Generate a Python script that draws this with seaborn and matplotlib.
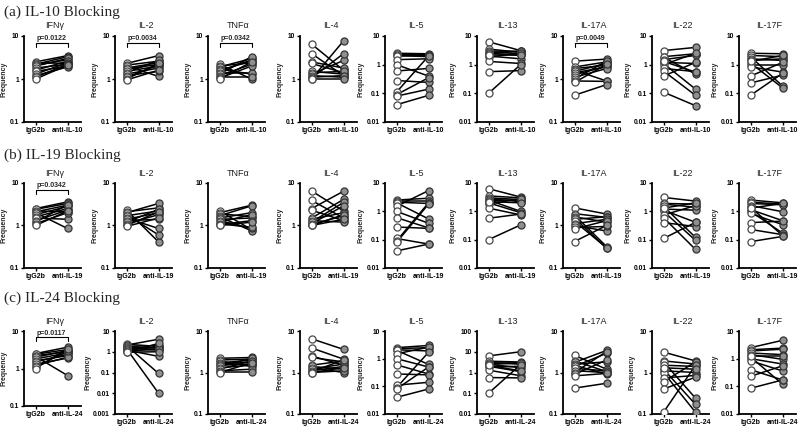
import matplotlib
matplotlib.use("Agg")
import matplotlib.pyplot as plt
import numpy as np
import pandas as pd
import seaborn as sns

# ---------------- data ----------------
CYTOKINES = ["IFNγ", "IL-2", "TNFα", "IL-4", "IL-5", "IL-13", "IL-17A", "IL-22", "IL-17F"]
ROW_TITLES = ["(a) IL-10 Blocking", "(b) IL-19 Blocking", "(c) IL-24 Blocking"]
CONTROL_LABEL = "IgG2b"
TREAT_LABELS = ["anti-IL-10", "anti-IL-19", "anti-IL-24"]

IFNG_IGG = [2.5, 2.4, 2.2, 2.1, 2.0, 1.8, 1.6, 1.5, 1.3, 1.2, 1.1, 1.0]
IFNG_IL10 = [3.5, 2.3, 3.3, 2.8, 3.0, 2.2, 2.6, 2.0, 2.4, 1.9, 2.2, 2.1]
IFNG_IL19 = [3.6, 3.3, 2.1, 3.0, 0.85, 2.8, 2.5, 1.4, 2.3, 3.1, 2.0, 2.2]
IFNG_IL24 = [3.7, 3.2, 2.8, 0.65, 3.0, 2.6, 2.2, 2.4, 1.9, 2.0, 2.9, 3.4]

IL2_IGG = [2.3, 2.1, 2.0, 1.8, 1.7, 1.5, 1.4, 1.3, 1.2, 1.1, 1.0, 0.95]
IL2_IL10 = [3.5, 2.6, 1.15, 2.4, 2.2, 2.0, 2.7, 1.8, 1.5, 2.1, 2.3, 1.6]
IL2_IL19 = [0.41, 2.6, 3.3, 0.6, 2.2, 0.85, 2.0, 1.4, 2.4, 1.8, 2.1, 1.5]
IL2_IL24 = [1.8, 4.0, 0.09, 2.0, 1.5, 1.2, 0.01, 1.6, 0.6, 1.3, 2.5, 1.0]

TNF_IGG = [2.2, 2.0, 1.9, 1.7, 1.6, 1.5, 1.4, 1.3, 1.2, 1.1, 1.05, 1.0]
TNF_IL10 = [1.0, 2.4, 3.0, 1.3, 2.6, 2.8, 1.4, 3.3, 2.2, 1.1, 2.0, 2.5]
TNF_IL19 = [0.8, 3.0, 1.6, 2.9, 0.75, 2.0, 1.5, 0.85, 1.8, 0.9, 1.3, 1.2]
TNF_IL24 = [2.3, 2.1, 1.4, 2.0, 1.8, 1.6, 2.2, 1.5, 1.9, 1.2, 1.05, 1.7]

IL4_IGG = [6.5, 3.9, 2.5, 2.3, 1.5, 1.4, 1.3, 1.2, 1.1, 1.05, 1.0, 1.0]
IL4_IL10 = [1.6, 1.2, 1.8, 1.4, 1.3, 1.5, 2.7, 1.1, 1.2, 3.9, 7.7, 1.0]
IL4_IL19 = [2.2, 1.5, 6.4, 1.3, 4.1, 2.0, 1.2, 3.5, 2.9, 1.7, 1.8, 1.4]
IL4_IL24 = [3.6, 2.1, 1.5, 1.8, 1.9, 1.2, 1.0, 1.6, 1.4, 2.0, 1.1, 1.3]

IL5_IGG = [2.5, 2.3, 2.1, 2.0, 1.5, 1.0, 0.6, 0.28, 0.11, 0.09, 0.08, 0.04]
IL5_IL10 = [2.4, 2.2, 1.9, 2.1, 1.6, 0.4, 0.74, 0.24, 2.0, 0.35, 0.14, 0.085]
IL5_IL19 = [2.9, 2.3, 1.9, 0.54, 5.4, 0.38, 0.26, 0.25, 0.07, 2.0, 1.8, 0.07]
IL5_IL24 = [3.0, 2.5, 1.9, 0.62, 2.6, 0.5, 0.28, 0.26, 0.14, 1.7, 0.5, 0.08]

IL13_IGG = [6.3, 3.5, 3.0, 2.8, 2.5, 2.4, 2.0, 1.8, 1.3, 0.57, 0.1, 2.2]
IL13_IL10 = [3.1, 2.7, 2.9, 2.4, 2.1, 3.0, 1.6, 2.6, 1.1, 0.62, 1.0, 2.2]
IL13_IL19 = [3.2, 3.0, 2.6, 2.2, 1.0, 2.5, 0.9, 2.8, 0.75, 0.8, 0.33, 2.0]
IL13_IL24 = [10.0, 3.2, 2.5, 2.8, 1.7, 3.0, 1.1, 2.0, 0.7, 0.55, 2.4, 1.2]

IL17A_IGG = [2.6, 1.9, 1.75, 1.6, 1.5, 1.4, 1.25, 1.1, 1.0, 0.9, 0.83, 0.42]
IL17A_IL10 = [2.9, 2.5, 2.1, 0.9, 2.3, 1.9, 2.0, 1.75, 2.6, 0.88, 2.2, 0.74]
IL17A_IL19 = [1.86, 1.55, 0.32, 1.2, 0.29, 1.6, 0.3, 1.4, 0.74, 0.95, 1.3, 1.0]
IL17A_IL24 = [1.2, 1.05, 3.4, 1.8, 0.9, 2.9, 1.1, 1.0, 3.2, 2.0, 0.95, 0.55]

IL22_IGG = [3.1, 1.9, 1.8, 1.5, 1.2, 1.1, 1.0, 0.74, 0.6, 0.4, 0.11, 1.3]
IL22_IL10 = [4.0, 2.4, 0.47, 2.1, 1.1, 0.14, 2.5, 0.57, 0.085, 1.2, 0.037, 0.55]
IL22_IL19 = [2.3, 1.8, 1.4, 0.12, 1.1, 0.41, 0.094, 1.6, 0.045, 0.29, 0.41, 2.0]
IL22_IL24 = [1.9, 1.6, 0.24, 1.4, 0.17, 1.0, 0.11, 0.85, 1.8, 0.77, 1.5, 1.2]

IL17F_IGG = [2.5, 2.1, 1.9, 1.6, 1.4, 1.15, 1.0, 0.84, 0.4, 0.23, 0.085, 1.3]
IL17F_IL10 = [2.4, 1.9, 0.18, 1.4, 1.6, 0.155, 1.0, 0.55, 1.2, 0.43, 0.5, 2.1]
IL17F_IL19 = [2.0, 1.8, 1.7, 0.97, 0.14, 0.47, 0.17, 0.34, 0.45, 0.15, 0.13, 1.9]
IL17F_IL24 = [4.6, 2.4, 2.2, 1.4, 0.95, 0.12, 0.64, 0.36, 0.17, 0.55, 0.17, 1.3]

CONTROLS = [IFNG_IGG, IL2_IGG, TNF_IGG, IL4_IGG, IL5_IGG, IL13_IGG, IL17A_IGG, IL22_IGG, IL17F_IGG]
TREATED = [
    [IFNG_IL10, IL2_IL10, TNF_IL10, IL4_IL10, IL5_IL10, IL13_IL10, IL17A_IL10, IL22_IL10, IL17F_IL10],
    [IFNG_IL19, IL2_IL19, TNF_IL19, IL4_IL19, IL5_IL19, IL13_IL19, IL17A_IL19, IL22_IL19, IL17F_IL19],
    [IFNG_IL24, IL2_IL24, TNF_IL24, IL4_IL24, IL5_IL24, IL13_IL24, IL17A_IL24, IL22_IL24, IL17F_IL24],
]

YMIN_A = [0.1, 0.1, 0.1, 0.1, 0.01, 0.01, 0.1, 0.01, 0.01]
YMIN_B = [0.1, 0.1, 0.1, 0.1, 0.01, 0.01, 0.1, 0.01, 0.01]
YMIN_C = [0.1, 0.001, 0.1, 0.1, 0.01, 0.01, 0.1, 0.1, 0.01]
YMAX_A = [10] * 9
YMAX_B = [10] * 9
YMAX_C = [10, 10, 10, 10, 10, 100, 10, 10, 10]
YMINS = [YMIN_A, YMIN_B, YMIN_C]
YMAXS = [YMAX_A, YMAX_B, YMAX_C]

P_ROW_A = {0: "p=0.0122", 1: "p=0.0034", 2: "p=0.0342", 6: "p=0.0049"}
P_ROW_B = {0: "p=0.0342"}
P_ROW_C = {0: "p=0.0117"}
PVALS = [P_ROW_A, P_ROW_B, P_ROW_C]

# ---------------- style / layout ----------------
sns.set_style("ticks")
plt.rcParams["font.family"] = ["Liberation Sans", "DejaVu Sans"]

W, H = 800, 428
fig = plt.figure(figsize=(8, 4.28), dpi=100)

AX_LEFT = [24, 115, 208, 300, 385, 477, 563, 652, 739]
AX_W = 57
ROW_TOP = [36, 183, 331]
ROW_BOT = [122, 268, 414]
ROW_TITLE_Y = [12, 155, 298]


def fmt(v):
    if v >= 1:
        return str(int(round(v)))
    return ("%.3f" % v).rstrip("0")


for r in range(3):
    fig.text(4 / W, 1 - ROW_TITLE_Y[r] / H, ROW_TITLES[r], family="Liberation Serif",
             fontsize=11, va="center", ha="left")
    for c in range(9):
        top = ROW_TOP[r]
        bot = ROW_BOT[r]
        if r == 2 and c == 0:
            bot = 406
        ax = fig.add_axes([AX_LEFT[c] / W, 1 - bot / H, AX_W / W, (bot - top) / H])
        ctrl = CONTROLS[c]
        trt = TREATED[r][c]
        n = len(ctrl)
        df = pd.DataFrame({
            "donor": list(range(n)) * 2,
            "x": [0] * n + [1] * n,
            "group": [CONTROL_LABEL] * n + [TREAT_LABELS[r]] * n,
            "value": list(ctrl) + list(trt),
        })
        sns.lineplot(data=df, x="x", y="value", units="donor", estimator=None,
                     color="black", lw=1.1, ax=ax, legend=False, zorder=2)
        sns.scatterplot(data=df[df.x == 0], x="x", y="value", ax=ax, s=26,
                        color="white", edgecolor="#4a4a4a", linewidth=0.9,
                        legend=False, zorder=3)
        sns.scatterplot(data=df[df.x == 1], x="x", y="value", ax=ax, s=26,
                        color="#8f8f8f", edgecolor="#333333", linewidth=0.9,
                        legend=False, zorder=3)
        ax.set_yscale("log")
        ymin, ymax = YMINS[r][c], YMAXS[r][c]
        ax.set_ylim(ymin, ymax)
        e0, e1 = int(round(np.log10(ymin))), int(round(np.log10(ymax)))
        ticks = [10.0 ** e for e in range(e0, e1 + 1)]
        ax.set_yticks(ticks)
        ax.set_yticklabels([fmt(t) for t in ticks], fontsize=4.8, fontweight="bold")
        ax.yaxis.set_minor_locator(matplotlib.ticker.NullLocator())
        ax.set_xlim(-0.36, 1.42)
        ax.set_xticks([0, 1])
        ax.set_xticklabels([CONTROL_LABEL, TREAT_LABELS[r]], fontsize=5, fontweight="bold")
        ax.set_xlabel("")
        ax.set_ylabel("Frequency", fontsize=5, fontweight="bold", labelpad=1.5)
        ax.tick_params(axis="both", length=2.5, width=1.0, pad=1.2, colors="black")
        for s in ["left", "bottom"]:
            ax.spines[s].set_linewidth(1.3)
            ax.spines[s].set_color("black")
        sns.despine(ax=ax)
        ax.set_facecolor("none")
        # panel title
        fig.text((AX_LEFT[c] + AX_W / 2 + 2) / W, 1 - (top - 10) / H, CYTOKINES[c],
                 fontsize=6.5, ha="center", va="center", color="#222222")
        # p-value bracket
        if c in PVALS[r]:
            lt, lb = np.log10(ymax), np.log10(ymin)
            span = lt - lb
            yb = 10 ** (lt - 0.085 * span)
            yt = 10 ** (lt - 0.13 * span)
            ax.plot([0, 0, 1, 1], [yt, yb, yb, yt], color="black", lw=0.8)
            ax.text(0.5, 10 ** (lt - 0.075 * span), PVALS[r][c], ha="center", va="bottom",
                    fontsize=5, fontweight="bold")

fig.savefig("out.png", dpi=100, facecolor="white")
